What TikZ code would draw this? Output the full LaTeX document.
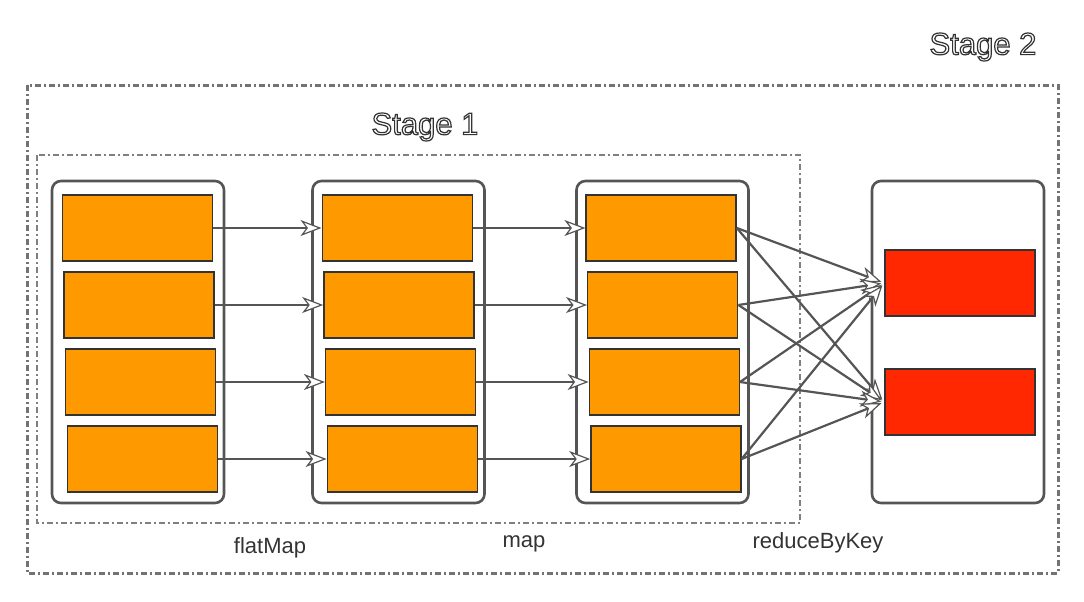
\documentclass[tikz,border=0pt]{standalone}
\usepackage{fontspec}
\setmainfont{Liberation Sans}
\usetikzlibrary{arrows.meta,positioning}

\definecolor{taskorange}{RGB}{255,153,0}
\definecolor{taskred}{RGB}{255,40,0}
\definecolor{lineg}{RGB}{85,85,85}

\newcommand{\outlined}[1]{\special{pdf:literal 1 Tr 1.2 w}#1\special{pdf:literal 0 Tr}}

\begin{document}
\begin{tikzpicture}[x=1pt,y=-1pt,
    part/.style={draw=black!80,line width=1.4pt,minimum width=150pt,
        minimum height=66pt,inner sep=0pt},
    rdd/.style={draw=lineg,line width=2.6pt,rounded corners=9pt,
        minimum width=172pt,minimum height=322pt,inner sep=0pt},
    stagebox/.style={draw=gray,line width=1.8pt,
        dash pattern=on 6pt off 3pt on 2pt off 3pt},
    flow/.style={-{Stealth[length=21pt,width=16pt,inset=6pt,fill=white,line width=1.2pt]},
        draw=lineg,line width=2.2pt},
    opname/.style={font=\fontsize{22}{25}\selectfont,text=black!80},
    stagename/.style={font=\fontsize{31}{34}\selectfont,text=black!80}]
    \useasboundingbox (0,0) rectangle (1084,602);

    % stages
    \draw[stagebox,draw=black!55,line width=3pt] (27,85) rectangle (1058,573);
    \draw[stagebox] (37,155) rectangle (800,523);
    \node[stagename] (s2) at (983,47) {\outlined{Stage 2}};
    \node[stagename] (s1) at (425,127) {\outlined{Stage 1}};

    % RDDs
    \node[rdd] (col1) at (138,342)   {};
    \node[rdd] (col2) at (398.5,342) {};
    \node[rdd] (col3) at (662.5,342) {};
    \node[rdd] (col4) at (958,342)   {};

    \foreach \i in {1,...,4} {
        \node[part,fill=taskorange] (a\i) at ({135.5+1.7*\i},{151+77*\i}) {};
        \node[part,fill=taskorange] (b\i) at ({395.5+1.7*\i},{151+77*\i}) {};
        \node[part,fill=taskorange] (c\i) at ({659.5+1.6*\i},{151+77*\i}) {};
    }
    \node[part,fill=taskred] (r1) at (960,283) {};
    \node[part,fill=taskred] (r2) [below=119pt of r1.center,anchor=center] {};

    % dependencies
    \foreach \i in {1,...,4} {
        \draw[flow] (a\i.east) -- (b\i.west);
        \draw[flow] (b\i.east) -- (c\i.west);
        \draw[flow,shorten >=3pt] (c\i.east) -- (r1.west);
        \draw[flow,shorten >=3pt] (c\i.east) -- (r2.west);
    }

    \node[opname] (fm)  at (270,548) {flatMap};
    \node[opname] (mp)  at (524,544) {map};
    \node[opname] (rbk) at (818,543) {reduceByKey};
\end{tikzpicture}
\end{document}
